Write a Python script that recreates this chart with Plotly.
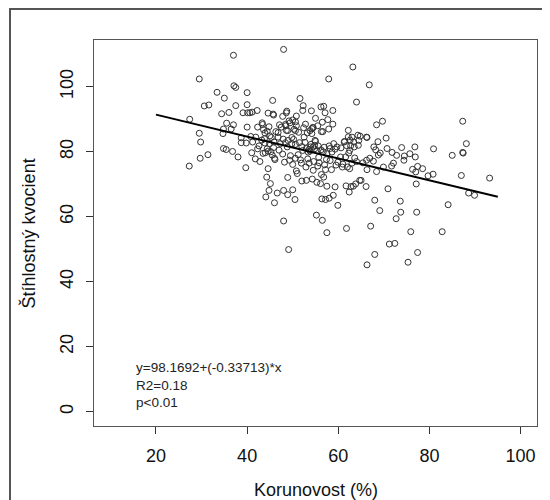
import plotly.graph_objects as go

# Korunovost (%) values
korunovost = [
    27.3, 27.4, 29.5, 29.5, 29.8, 29.7, 30.6, 31.6, 31.4, 33.4, 34.4, 35.0, 34.7, 34.8, 34.8, 35.4,
    35.5, 36.0, 36.5, 37.0, 37.1, 37.5, 37.0, 36.8, 37.5, 38.0, 38.7, 38.7, 39.1, 39.7, 39.8, 40.0,
    40.0, 40.1, 40.0, 40.6, 40.8, 41.1, 41.0, 41.9, 41.8, 42.2, 42.3, 42.3, 42.8, 43.3, 43.4, 43.6,
    43.8, 43.9, 43.9, 44.0, 44.1, 44.3, 44.4, 44.4, 44.6, 44.6, 44.6, 44.8, 44.8, 45.0, 45.1, 45.2,
    45.3, 45.6, 45.7, 45.8, 45.9, 46.0, 46.0, 46.1, 46.6, 46.8, 47.1, 47.5, 47.8, 47.9, 48.0, 48.0,
    48.0, 48.2, 48.4, 48.6, 48.6, 48.8, 48.9, 48.9, 49.1, 49.3, 49.4, 49.8, 50.0, 50.0, 50.2, 50.5,
    50.6, 50.6, 50.8, 50.8, 51.0, 51.2, 51.6, 51.7, 52.0, 52.2, 52.3, 52.4, 52.5, 52.7, 52.9, 53.0,
    53.2, 53.4, 53.6, 53.6, 53.8, 53.9, 54.1, 54.2, 54.2, 54.3, 54.5, 54.5, 54.5, 54.8, 54.9, 55.0,
    55.2, 55.3, 55.5, 55.6, 55.7, 56.1, 56.2, 56.3, 56.3, 56.4, 56.5, 56.5, 56.8, 56.8, 56.9, 57.1,
    57.2, 57.2, 57.4, 57.5, 57.5, 57.7, 57.9, 58.0, 58.2, 58.5, 58.6, 58.8, 58.9, 59.0, 59.3, 59.5,
    59.7, 59.9, 60.5, 60.9, 61.3, 61.6, 61.7, 61.8, 62.0, 62.2, 62.3, 62.4, 62.5, 62.5, 62.7, 62.8,
    63.0, 63.2, 63.3, 63.5, 63.6, 63.8, 64.0, 64.3, 64.5, 64.7, 65.0, 66.1, 66.2, 66.3, 66.3, 66.3,
    66.8, 67.1, 68.0, 68.0, 67.8, 68.2, 68.4, 68.4, 68.7, 68.8, 69.1, 69.2, 69.7, 69.9, 70.5, 70.7,
    70.9, 71.2, 71.7, 71.8, 72.1, 72.4, 72.7, 72.8, 73.6, 73.7, 73.9, 74.4, 74.5, 75.3, 75.7, 75.9,
    76.3, 76.8, 76.9, 77.0, 77.1, 77.2, 77.4, 77.4, 78.5, 79.7, 80.9, 80.8, 82.8, 84.1, 85.0, 87.0,
    87.3, 87.3, 87.4, 88.1, 88.6, 89.9, 93.2,
    48.7, 49.2, 48.5, 48.9, 50.0, 50.8, 51.3, 50.3, 49.8, 49.0, 48.4, 50.6, 51.5, 52.0, 53.0, 54.0,
    52.2, 54.8, 55.3, 56.2, 56.7, 57.5, 58.0, 59.3, 60.6, 61.4, 61.8, 62.6, 63.4, 64.4, 62.2, 64.8,
    66.2, 55.0, 54.4, 55.5, 56.6, 57.9, 58.8, 53.8, 52.8, 46.3, 46.8, 47.3, 45.8, 47.0, 44.9, 43.2,
    42.6, 41.2, 43.5, 45.5, 47.8, 49.5, 50.6, 51.9, 53.3, 54.6, 55.8, 57.0, 58.2, 59.9, 61.0, 63.0,
    64.0, 65.4, 66.9, 67.7,
]

# Štíhlostný kvocient values
kvocient = [
    75.6, 90.0, 102.4, 85.7, 83.0, 78.0, 94.1, 94.4, 79.1, 98.3, 91.7, 96.5, 85.6, 87.0, 81.0, 80.7,
    88.8, 92.1, 87.0, 109.7, 100.3, 99.8, 88.3, 80.1, 94.2, 78.4, 84.3, 82.8, 92.0, 75.1, 82.7, 98.2,
    94.5, 92.0, 87.6, 92.0, 84.7, 92.2, 79.7, 84.5, 77.8, 92.7, 87.6, 80.9, 77.0, 88.9, 88.4, 86.8,
    84.0, 85.8, 82.7, 79.7, 66.1, 72.2, 86.3, 80.9, 91.9, 80.2, 74.8, 87.7, 68.1, 84.9, 70.2, 80.0,
    84.4, 95.8, 91.6, 91.3, 83.0, 64.3, 78.0, 77.6, 67.3, 85.9, 88.3, 87.6, 90.9, 83.9, 58.7, 111.5,
    68.1, 76.8, 88.4, 86.6, 92.0, 81.5, 72.1, 66.8, 49.9, 77.4, 88.9, 84.4, 68.3, 76.1, 83.8, 65.3,
    89.2, 86.5, 91.0, 74.1, 73.3, 79.1, 96.4, 77.5, 71.0, 92.7, 94.2, 87.4, 84.5, 82.9, 75.3, 71.2,
    85.8, 79.9, 80.7, 76.5, 80.2, 81.5, 92.6, 85.6, 87.1, 71.6, 81.5, 87.4, 74.3, 82.0, 83.5, 90.3,
    60.5, 70.6, 75.6, 81.8, 78.3, 70.2, 93.8, 86.2, 73.0, 65.5, 89.1, 58.9, 94.0, 72.2, 81.4, 92.0,
    74.5, 65.3, 77.6, 69.4, 55.1, 89.9, 102.4, 65.7, 81.0, 74.5, 79.9, 92.7, 66.6, 82.5, 69.2, 75.9,
    81.5, 63.5, 78.4, 75.3, 83.0, 78.4, 69.5, 56.4, 75.3, 86.6, 79.6, 67.6, 80.4, 74.8, 81.8, 69.3,
    84.5, 106.1, 69.4, 81.5, 78.1, 70.1, 95.3, 85.1, 83.5, 71.2, 71.2, 69.3, 77.4, 84.4, 45.2, 74.5,
    100.6, 57.1, 65.1, 48.4, 81.5, 80.6, 73.9, 88.3, 83.1, 79.0, 61.9, 79.6, 89.4, 75.3, 84.2, 81.0,
    68.6, 51.6, 75.6, 79.8, 76.5, 51.8, 59.4, 78.9, 64.8, 61.4, 81.3, 77.4, 78.7, 46.0, 79.4, 55.4,
    74.6, 81.5, 78.4, 73.8, 70.1, 61.4, 49.0, 75.5, 74.8, 72.6, 80.9, 73.1, 55.4, 63.7, 78.9, 72.7,
    89.4, 79.8, 79.6, 82.5, 67.3, 66.6, 71.9,
    92.5, 89.5, 88.0, 86.5, 89.8, 88.0, 86.0, 86.9, 82.5, 83.5, 82.8, 82.3, 82.8, 81.6, 81.0, 82.3,
    80.4, 80.9, 80.3, 80.6, 80.0, 79.4, 81.8, 80.8, 81.2, 83.2, 81.9, 83.6, 83.0, 82.0, 84.6, 84.8,
    84.5, 83.2, 87.5, 88.0, 86.2, 87.0, 88.5, 86.5, 88.5, 86.2, 84.5, 82.5, 81.3, 80.5, 82.5, 83.6,
    81.8, 83.0, 79.5, 79.0, 79.3, 78.8, 78.0, 76.5, 77.8, 77.0, 76.6, 76.0, 77.3, 76.8, 76.2, 76.5,
    77.0, 76.6, 78.0, 77.1,
]

# regression (from the printed equation)
intercept = 98.1692
slope = -0.33713
line_x = [20, 95]
line_y = [intercept + slope * v for v in line_x]

x_ticks = [20, 40, 60, 80, 100]
y_ticks = [0, 20, 40, 60, 80, 100]
stats_lines = ["y=98.1692+(-0.33713)*x", "R2=0.18", "p<0.01"]

FONT = "Liberation Sans, Arial, sans-serif"

fig = go.Figure()
fig.add_trace(go.Scatter(
    x=korunovost, y=kvocient, mode="markers",
    marker=dict(symbol="circle-open", size=6, color="#333333", line=dict(width=1)),
    hoverinfo="skip", showlegend=False,
))
fig.add_trace(go.Scatter(
    x=line_x, y=line_y, mode="lines",
    line=dict(color="black", width=2), hoverinfo="skip", showlegend=False,
))

axis_common = dict(
    showgrid=False, zeroline=False, showline=True, mirror=True,
    linecolor="#555555", linewidth=1, ticks="outside", ticklen=7,
    tickcolor="#333333", tickwidth=1,
    tickfont=dict(family=FONT, size=18, color="#111111"),
)

fig.update_layout(
    width=542, height=492,
    margin=dict(l=86, r=13, t=32, b=74),
    paper_bgcolor="white", plot_bgcolor="white",
    font=dict(family=FONT, color="#111111"),
    xaxis=dict(range=[6.4, 103.6], tickvals=x_ticks, ticktext=[str(v) for v in x_ticks],
               ticklabelstandoff=6, **axis_common),
    yaxis=dict(range=[-4.4, 114.4], tickvals=y_ticks, ticktext=[str(v) for v in y_ticks],
               tickangle=-90, ticklabelstandoff=6, **axis_common),
    annotations=[
        dict(text="Korunovost (%)", xref="paper", yref="paper", x=0.5, y=-0.166,
             xanchor="center", yanchor="middle", showarrow=False,
             font=dict(family=FONT, size=18, color="#111111")),
        dict(text="Štíhlostný kvocient", xref="paper", yref="paper", x=-0.148, y=0.5,
             xanchor="center", yanchor="middle", textangle=-90, showarrow=False,
             font=dict(family=FONT, size=18, color="#111111")),
        dict(text="<br>".join(stats_lines), xref="paper", yref="paper", x=0.091, y=0.176,
             xanchor="left", yanchor="top", align="left", showarrow=False,
             font=dict(family=FONT, size=13.5, color="#222222")),
    ],
    shapes=[
        dict(type="rect", xref="paper", yref="paper", x0=-0.1896, x1=1.6, y0=-0.6, y1=1.0803,
             line=dict(color="#555555", width=2), fillcolor="rgba(0,0,0,0)"),
    ],
)

fig.write_html("out.html")
